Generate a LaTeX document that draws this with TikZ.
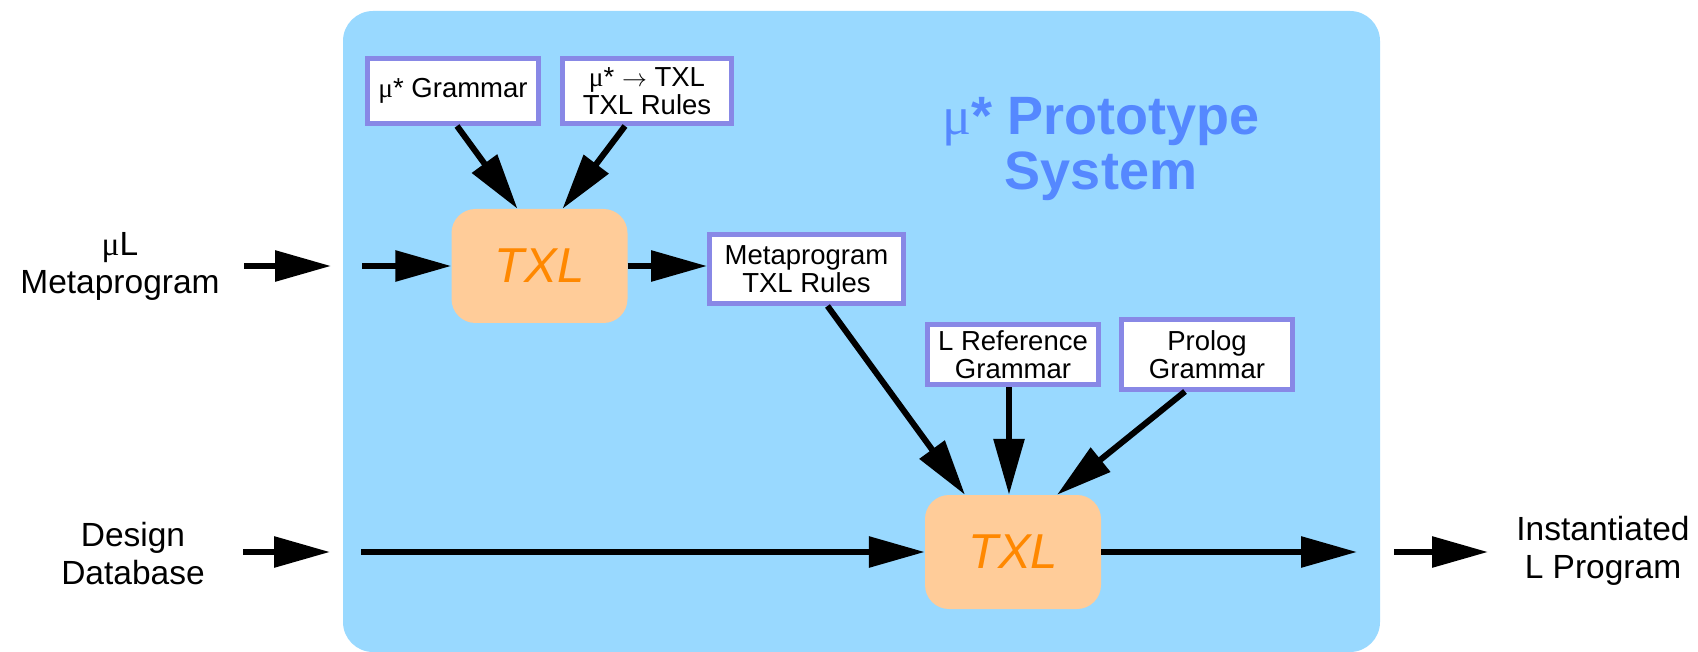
\documentclass[tikz,border=0pt]{standalone}
\usepackage{fontspec}
\setmainfont{Liberation Sans}
\newfontfamily\symfont{Liberation Serif}
\usepackage{xcolor}
\usepackage{tikz}
\usetikzlibrary{arrows.meta,positioning}
\definecolor{panelblue}{RGB}{153,217,255}
\definecolor{txlfill}{RGB}{255,204,153}
\definecolor{txlorange}{RGB}{255,136,0}
\definecolor{boxline}{RGB}{136,136,230}
\definecolor{titleblue}{RGB}{85,136,255}
\newcommand{\mumark}{{\symfont μ}}
\tikzstyle{src} = [rectangle, draw=boxline, line width=5pt, fill=white,
    inner sep=0pt, align=center, minimum width=171pt, minimum height=65pt,
    font=\fontsize{27.5}{28}\selectfont]
\tikzstyle{txl} = [rectangle, fill=txlfill, rounded corners=24pt,
    minimum width=176pt, minimum height=114pt, text=txlorange,
    font=\fontsize{49}{49}\selectfont\itshape]
\tikzstyle{ext} = [align=center]
\tikzstyle{line} = [draw, line width=6pt, -{Triangle[length=56pt,width=30pt]}]

\begin{document}
\begin{tikzpicture}[x=1pt, y=-1pt, node distance=194pt]
\tikzstyle{every node}=[font=\fontsize{33.5}{38}\selectfont]
    \useasboundingbox (0,0) rectangle (1698,652);
    % Prototype panel
    \fill [panelblue, rounded corners=30pt] (343,11) rectangle (1380,652);
    \node [text=titleblue, align=center, font=\fontsize{54}{55}\selectfont\bfseries]
        (title) at (1101,149) {{\mdseries\mumark}* Prototype\\System};

    % Place nodes
    \node [src] (gram) at (453,91) {\mumark* Grammar};
    \node [src, right of=gram, minimum width=169pt] (rules)
        {\mumark* $\rightarrow$ TXL\\TXL Rules};
    \node [txl] (txlA) at (539.5,266) {TXL};
    \node [src, minimum width=194pt, minimum height=69pt] (meta) at (806.5,269)
        {Metaprogram\\TXL Rules};
    \node [src, minimum height=60pt] (lref) at (1013,354.5) {L Reference\\Grammar};
    \node [src, right of=lref, minimum height=69pt] (prolog) {Prolog\\Grammar};
    \node [txl, below of=lref, node distance=197.5pt] (txlB) {TXL};

    \node [ext] (metaL) at (120,266) {\mumark L\\Metaprogram};
    \node [ext] (design) at (133,554) {Design\\Database};
    \node [ext] (result) at (1603,551) {Instantiated\\L Program};

    \coordinate (inA0) at (244,266);
    \coordinate (inA1) at (331,266);
    \coordinate (inA2) at (362,266);
    \coordinate (inB0) at (243,552);
    \coordinate (inB1) at (330,552);
    \coordinate (inB2) at (361,552);
    \coordinate (outB1) at (1357,552);
    \coordinate (outB2) at (1394,552);
    \coordinate (outB3) at (1488,552);

    % Draw edges
    \path [line] (inA0) -- (inA1);
    \path [line] (inA2) -- (txlA);
    \path [line] ([xshift=4pt]gram.south) -- ([xshift=-22pt]txlA.north);
    \path [line] ([xshift=-22pt]rules.south) -- ([xshift=23pt]txlA.north);
    \path [line] (txlA.east) -- (meta.west |- txlA.east);
    \path [line] ([xshift=21pt]meta.south) -- ([xshift=-48pt]txlB.north);
    \path [line] ([xshift=-4pt]lref.south) -- ([xshift=-4pt]txlB.north);
    \path [line] ([xshift=-22pt]prolog.south) -- ([xshift=44pt]txlB.north);
    \path [line] (inB0) -- (inB1);
    \path [line] (inB2) -- (txlB);
    \path [line] (txlB) -- (outB1);
    \path [line] (outB2) -- (outB3);

\end{tikzpicture}
\end{document}
